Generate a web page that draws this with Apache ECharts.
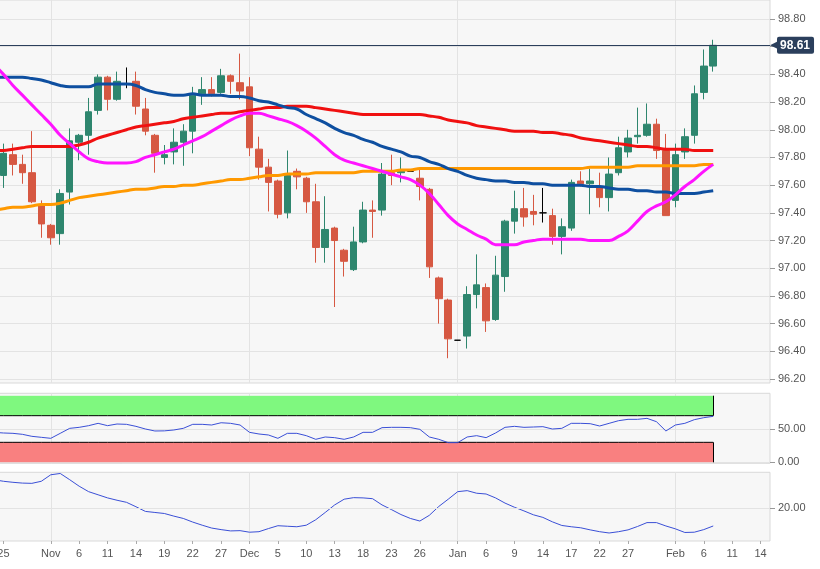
<!DOCTYPE html>
<html>
<head>
<meta charset="utf-8">
<title>DXY daily</title>
<script src="https://cdn.jsdelivr.net/npm/echarts@6/dist/echarts.min.js"></script>
<style>
html,body{margin:0;padding:0;background:#fff;overflow:hidden;}
/* the first (hidden) trading day sits 6px left of the page edge */
#chart{width:826px;height:569px;margin-left:-6px;}
</style>
</head>
<body>
<div id="chart"></div>
<script>
// trading days, first one (Oct 24) sits just left of the visible area
var dates = [
	'2019-10-24','2019-10-25','2019-10-28','2019-10-29','2019-10-30','2019-10-31','2019-11-01',
	'2019-11-04','2019-11-05','2019-11-06','2019-11-07','2019-11-08',
	'2019-11-11','2019-11-12','2019-11-13','2019-11-14','2019-11-15',
	'2019-11-18','2019-11-19','2019-11-20','2019-11-21','2019-11-22',
	'2019-11-25','2019-11-26','2019-11-27','2019-11-28','2019-11-29',
	'2019-12-02','2019-12-03','2019-12-04','2019-12-05','2019-12-06',
	'2019-12-09','2019-12-10','2019-12-11','2019-12-12','2019-12-13',
	'2019-12-16','2019-12-17','2019-12-18','2019-12-19','2019-12-20',
	'2019-12-23','2019-12-24','2019-12-25','2019-12-26','2019-12-27',
	'2019-12-30','2019-12-31','2020-01-01','2020-01-02','2020-01-03',
	'2020-01-06','2020-01-07','2020-01-08','2020-01-09','2020-01-10',
	'2020-01-13','2020-01-14','2020-01-15','2020-01-16','2020-01-17',
	'2020-01-20','2020-01-21','2020-01-22','2020-01-23','2020-01-24',
	'2020-01-27','2020-01-28','2020-01-29','2020-01-30','2020-01-31',
	'2020-02-03','2020-02-04','2020-02-05','2020-02-06','2020-02-07',
	'2020-02-10','2020-02-11','2020-02-12','2020-02-13','2020-02-14','2020-02-17'
];
var tickDates = ['2019-10-25','2019-11-01','2019-11-06','2019-11-11','2019-11-14','2019-11-19','2019-11-22','2019-11-27',
	'2019-12-02','2019-12-05','2019-12-10','2019-12-13','2019-12-18','2019-12-23','2019-12-26',
	'2020-01-01','2020-01-06','2020-01-09','2020-01-14','2020-01-17','2020-01-22','2020-01-27',
	'2020-02-03','2020-02-06','2020-02-11','2020-02-14'];
var tickTexts = ['25','Nov','6','11','14','19','22','27','Dec','5','10','13','18','23','26',
	'Jan','6','9','14','17','22','27','Feb','6','11','14'];
var monthStarts = ['2019-11-01','2019-12-02','2020-01-01','2020-02-03'];

// OHLC from Oct 25 to Feb 7
var opens = [97.67,97.82,97.75,97.69,97.45,97.31,97.25,97.55,97.91,97.96,98.14,98.38,98.22,98.33,98.35,98.15,
	97.96,97.80,97.84,97.91,97.99,98.26,98.29,98.27,98.39,98.34,98.31,97.86,97.73,97.63,97.40,97.70,97.65,97.48,
	97.15,97.29,97.13,96.99,97.19,97.42,97.42,97.69,97.69,97.70,97.65,97.57,96.93,96.77,96.48,96.51,96.81,96.86,
	96.63,96.94,97.34,97.43,97.41,97.40,97.38,97.23,97.29,97.63,97.61,97.59,97.51,97.69,97.84,97.95,97.96,98.04,
	97.85,97.49,97.84,97.96,98.27,98.46];
var closes = [97.83,97.75,97.69,97.48,97.32,97.22,97.54,97.92,97.96,98.13,98.38,98.22,98.35,98.33,98.17,97.99,
	97.83,97.82,97.91,97.99,98.25,98.29,98.26,98.39,98.35,98.28,97.87,97.73,97.62,97.39,97.67,97.66,97.48,97.15,
	97.28,97.20,97.05,97.19,97.42,97.41,97.68,97.67,97.70,97.70,97.59,97.01,96.78,96.49,96.48,96.81,96.88,96.62,
	96.95,97.34,97.43,97.37,97.39,97.40,97.23,97.30,97.62,97.61,97.63,97.51,97.68,97.87,97.94,97.96,98.04,97.85,
	97.38,97.82,97.95,98.26,98.46,98.61];
var lows = [97.58,97.67,97.61,97.47,97.22,97.17,97.17,97.46,97.78,97.82,98.11,98.14,98.21,98.30,98.11,97.96,
	97.69,97.75,97.75,97.74,97.83,98.18,98.24,98.26,98.26,98.22,97.81,97.64,97.41,97.36,97.36,97.57,97.40,97.04,
	97.04,96.72,96.94,96.98,97.18,97.22,97.38,97.60,97.62,97.70,97.49,96.93,96.60,96.35,96.48,96.42,96.71,96.54,
	96.62,96.83,97.25,97.30,97.31,97.33,97.17,97.10,97.27,97.59,97.39,97.44,97.41,97.67,97.80,97.90,97.95,97.79,
	97.38,97.44,97.79,97.90,98.22,98.42];
var highs = [97.90,97.90,97.82,97.99,97.49,97.32,97.57,98.01,97.97,98.23,98.40,98.39,98.42,98.45,98.42,98.23,
	97.97,97.89,98.01,98.04,98.31,98.38,98.38,98.44,98.40,98.55,98.38,97.95,97.79,97.64,97.85,97.72,97.66,97.61,
	97.52,97.30,97.14,97.30,97.48,97.49,97.76,97.82,97.80,97.70,97.71,97.58,96.94,96.78,96.48,96.87,97.10,96.89,
	97.09,97.35,97.56,97.58,97.53,97.58,97.43,97.36,97.64,97.70,97.72,97.69,97.80,97.95,98.00,98.16,98.19,98.08,
	97.97,97.90,98.01,98.32,98.58,98.65];

// moving averages, Oct 24 to Feb 7
var ma20 = [98.47,98.40,98.32,98.25,98.18,98.11,98.04,97.96,97.90,97.84,97.79,97.77,97.76,97.76,97.76,97.77,
	97.80,97.82,97.84,97.86,97.89,97.92,97.95,97.99,98.03,98.07,98.10,98.12,98.12,98.10,98.08,98.06,98.03,97.99,
	97.94,97.88,97.82,97.78,97.76,97.74,97.72,97.70,97.68,97.66,97.64,97.60,97.54,97.46,97.38,97.32,97.28,97.24,
	97.21,97.17,97.17,97.17,97.19,97.20,97.21,97.21,97.21,97.21,97.21,97.20,97.20,97.20,97.23,97.27,97.34,97.41,
	97.45,97.48,97.53,97.59,97.64,97.70,97.75];
var ma50 = [98.38,98.38,98.38,98.38,98.37,98.36,98.34,98.32,98.31,98.31,98.31,98.33,98.33,98.33,98.33,98.32,
	98.29,98.27,98.26,98.25,98.25,98.26,98.25,98.25,98.25,98.24,98.24,98.23,98.21,98.20,98.18,98.16,98.15,98.11,
	98.08,98.05,98.01,97.98,97.96,97.93,97.91,97.88,97.86,97.84,97.81,97.80,97.77,97.75,97.72,97.70,97.67,97.65,
	97.64,97.63,97.63,97.62,97.62,97.61,97.61,97.60,97.60,97.60,97.60,97.59,97.59,97.58,97.57,97.57,97.56,97.56,
	97.55,97.55,97.54,97.54,97.54,97.55,97.56];
var ma100 = [97.85,97.85,97.86,97.87,97.88,97.88,97.88,97.88,97.88,97.89,97.91,97.94,97.96,97.98,98.00,98.02,
	98.03,98.04,98.05,98.06,98.08,98.09,98.10,98.11,98.12,98.12,98.13,98.14,98.15,98.16,98.16,98.17,98.17,98.17,
	98.16,98.15,98.14,98.13,98.12,98.11,98.11,98.11,98.11,98.11,98.11,98.11,98.10,98.09,98.07,98.06,98.05,98.03,
	98.02,98.01,98.00,97.99,97.99,97.99,97.98,97.98,97.97,97.96,97.94,97.93,97.92,97.91,97.90,97.89,97.88,97.88,
	97.87,97.86,97.86,97.86,97.85,97.85,97.85];
var ma200 = [97.42,97.43,97.44,97.44,97.45,97.46,97.46,97.47,97.49,97.51,97.52,97.53,97.54,97.55,97.56,97.57,
	97.57,97.58,97.59,97.59,97.60,97.60,97.61,97.62,97.63,97.64,97.64,97.65,97.66,97.67,97.67,97.68,97.68,97.68,
	97.69,97.69,97.69,97.69,97.69,97.70,97.70,97.70,97.70,97.71,97.71,97.72,97.72,97.72,97.72,97.72,97.72,97.72,
	97.72,97.72,97.72,97.72,97.72,97.72,97.72,97.72,97.72,97.72,97.72,97.73,97.73,97.73,97.73,97.73,97.74,97.74,
	97.74,97.74,97.74,97.74,97.74,97.75,97.75];

// oscillators, Oct 24 to Feb 7
var rsi = [45,44,43.5,42,39,37.5,36,43.5,51,52.5,55,58.5,55,57.5,57,54,50,47,47.2,48.5,51,57,57,56,59.4,58.5,
	56,45,42.5,41,36,43.5,43.5,40,34.5,38,37,34.5,38,45,45,52,52.5,52.5,52,49.5,38,34.5,29.5,29.5,38,40,37,44,
	52.5,54,52.5,53,53.5,50,51,58.5,58.5,58,54.5,58.5,62.5,64.5,64.5,66,61,47,56,58.5,64,67,69];
var rsiLevels = [30, 70];
var adx = [31,30.4,30,29.7,29.6,30.4,32.9,33.4,31,28.5,26.4,25.2,24,23.1,22.3,20.6,18.8,18.4,18,17,16.1,14.7,
	13.5,12.4,11.8,11.3,11.4,10.8,11,12.2,13.3,13.1,12.9,13.5,15.6,18.4,21.3,23.5,24.1,24,23.7,21.3,19.5,17.6,
	16.1,15.1,17.3,20.7,23.5,26.4,26.8,25.8,25.5,24,22,20.4,19,17.5,16.5,14.8,13.4,12.9,12.5,11.7,11,10.5,11,
	11.7,13,14.5,14.5,13.2,12.1,10.7,10.8,11.8,13.2];

var upColor = '#2e866e';
var downColor = '#d65842';
var gridColor = '#e3e3e3';
var lastClose = closes[closes.length - 1];
var lastDate = dates[rsi.length - 1];

// candle rows [open, close, low, high]; the hidden first day has none
var candleData = ['-'];
for (var i = 0; i < opens.length; i++) {
	candleData.push([opens[i], closes[i], lows[i], highs[i]]);
}

function isMonthStart(idx, val) {
	return monthStarts.indexOf(val) >= 0;
}
function isTick(idx, val) {
	return tickDates.indexOf(val) >= 0;
}

function xAxisFor(gridIndex, showLabels, showMonths) {
	return {
		type: 'category', gridIndex: gridIndex, data: dates, boundaryGap: false,
		axisLine: {show: false},
		axisTick: {show: showLabels, interval: isTick, length: 3, lineStyle: {color: '#aaa'}},
		axisLabel: {
			show: showLabels, interval: isTick, margin: 7, color: '#555', fontSize: 11,
			fontFamily: 'Liberation Sans, Arial, sans-serif',
			formatter: function (v) { return tickTexts[tickDates.indexOf(v)]; }
		},
		splitLine: {show: showMonths, interval: isMonthStart, lineStyle: {color: gridColor}}
	};
}

var labelStyle = {color: '#555', fontSize: 11, margin: 8, fontFamily: 'Liberation Sans, Arial, sans-serif'};
var panelStyle = {show: true, backgroundColor: '#f7f7f7', borderColor: '#d9d9d9', borderWidth: 1};

function lineSeries(data, color, width, xi, smooth) {
	return {
		type: 'line', data: data, xAxisIndex: xi, yAxisIndex: xi, smooth: smooth,
		showSymbol: false, silent: true, lineStyle: {color: color, width: width}
	};
}

var option = {
	animation: false,
	grid: [
		Object.assign({left: 0, right: 50, top: -1, height: 384}, panelStyle),
		{left: 0, right: 50, top: 19, height: 360},
		Object.assign({left: 0, right: 50, top: 393.3, height: 70}, panelStyle),
		{left: 0, right: 50, top: 395.7, height: 66.6},
		Object.assign({left: 0, right: 50, top: 472.3, height: 68.7}, panelStyle)
	],
	xAxis: [
		xAxisFor(0, false, true),
		xAxisFor(1, false, false),
		xAxisFor(2, false, true),
		xAxisFor(3, false, false),
		xAxisFor(4, true, true)
	],
	yAxis: [
		{type: 'value', gridIndex: 0, show: false},
		{
			type: 'value', gridIndex: 1, position: 'right', min: 96.2, max: 98.8, interval: 0.2,
			axisLine: {show: false},
			axisTick: {show: true, length: 5, lineStyle: {color: '#999'}},
			axisLabel: Object.assign({formatter: function (v) { return v.toFixed(2); }}, labelStyle),
			splitLine: {lineStyle: {color: gridColor}}
		},
		{type: 'value', gridIndex: 2, show: false},
		{
			type: 'value', gridIndex: 3, position: 'right', min: 0, max: 100, interval: 50,
			axisLine: {show: false},
			axisTick: {show: true, length: 5, customValues: [0, 50], lineStyle: {color: '#999'}},
			axisLabel: Object.assign({showMaxLabel: false, formatter: function (v) { return v.toFixed(2); }}, labelStyle),
			splitLine: {lineStyle: {color: gridColor}}
		},
		{
			type: 'value', gridIndex: 4, position: 'right', min: 7.42, max: 33.85,
			axisLine: {show: false},
			axisTick: {show: true, length: 5, customValues: [20], lineStyle: {color: '#999'}},
			axisLabel: Object.assign({customValues: [20], formatter: function (v) { return v.toFixed(2); }}, labelStyle),
			splitLine: {show: false}
		}
	],
	series: [
		{
			type: 'candlestick', xAxisIndex: 1, yAxisIndex: 1, data: candleData, barWidth: 7, silent: true,
			itemStyle: {
				color: upColor, color0: downColor, borderColor: upColor, borderColor0: downColor,
				borderColorDoji: '#000', borderWidth: 1
			},
			markLine: {
				silent: true, symbol: ['none', 'none'], animation: false,
				lineStyle: {color: '#2b3f5c', width: 1, type: 'solid'},
				label: {
					show: true, position: 'end', distance: 0,
					formatter: '{a|◀}{b|' + lastClose.toFixed(2) + '}',
					rich: {
						a: {color: '#2b3f5c', fontSize: 11, padding: [0, -1, 0, 0]},
						b: {
							color: '#fff', backgroundColor: '#2b3f5c', fontWeight: 'bold', fontSize: 12,
							fontFamily: 'Liberation Sans, Arial, sans-serif', padding: [3, 4, 2, 3], borderRadius: 2
						}
					}
				},
				data: [{yAxis: lastClose}]
			}
		},
		lineSeries(ma200, '#ff9900', 3, 1, 0.4),
		lineSeries(ma100, '#f01010', 3, 1, 0.4),
		lineSeries(ma50, '#0e4fa0', 3, 1, 0.4),
		lineSeries(ma20, '#ff14ff', 3, 1, 0.4),
		// overbought band 70-100
		{
			type: 'line', xAxisIndex: 3, yAxisIndex: 3, showSymbol: false, silent: true,
			data: rsi.map(function () { return rsiLevels[1]; }),
			lineStyle: {color: '#000', width: 1},
			areaStyle: {origin: 'end', color: '#7ff87f', opacity: 1},
			markLine: {
				silent: true, symbol: ['none', 'none'], label: {show: false},
				lineStyle: {color: '#000', width: 1, type: 'solid'},
				data: [[{coord: [lastDate, rsiLevels[1]]}, {coord: [lastDate, 100]}]]
			}
		},
		// oversold band 0-30
		{
			type: 'line', xAxisIndex: 3, yAxisIndex: 3, showSymbol: false, silent: true,
			data: rsi.map(function () { return rsiLevels[0]; }),
			lineStyle: {color: '#000', width: 1},
			areaStyle: {origin: 'start', color: '#f98080', opacity: 1},
			markLine: {
				silent: true, symbol: ['none', 'none'], label: {show: false},
				lineStyle: {color: '#000', width: 1, type: 'solid'},
				data: [[{coord: [lastDate, 0]}, {coord: [lastDate, rsiLevels[0]]}]]
			}
		},
		lineSeries(rsi, '#3a4fd6', 1, 3, false),
		{
			type: 'line', xAxisIndex: 4, yAxisIndex: 4, data: adx, showSymbol: false, silent: true,
			lineStyle: {color: '#3a4fd6', width: 1},
			markLine: {
				silent: true, symbol: ['none', 'none'], label: {show: false},
				lineStyle: {color: gridColor, width: 1, type: 'solid'},
				data: [{yAxis: 20}]
			}
		}
	]
};

var myChart = echarts.init(document.getElementById('chart'));
myChart.setOption(option);
</script>
</body>
</html>
